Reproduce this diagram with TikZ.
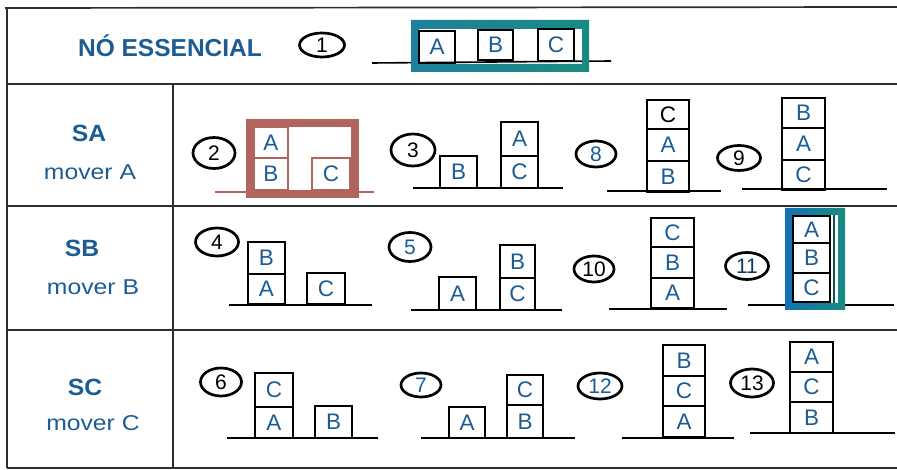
\documentclass[tikz,border=0pt]{standalone}
\usepackage{fontspec}
\setmainfont{Liberation Sans}
\usetikzlibrary{shapes.geometric}
\definecolor{ink}{RGB}{28,92,148}
\definecolor{boxred}{RGB}{176,102,94}
\definecolor{tealA}{RGB}{24,140,128}
\definecolor{tealB}{RGB}{30,128,155}
\definecolor{blueA}{RGB}{22,112,180}
\definecolor{frame}{RGB}{45,45,45}
\tikzset{
  blk/.style={draw=black, line width=1.6pt, inner sep=0pt, text=ink, font=\fontsize{22.5}{22}\selectfont},
  redblk/.style={draw=boxred, line width=1.8pt},
  numc/.style={draw=black, ellipse, line width=2.7pt, inner sep=0pt, font=\fontsize{21}{21}\selectfont},
  ground/.style={line width=1.6pt, black},
  rule/.style={line width=1.7pt, frame},
  lbl/.style={text=ink, anchor=base, inner sep=0pt},
}
% \bk[style]{name}{x1}{y1}{x2}{y2}{letter}
\newcommand{\bk}[7][]{\node[blk,#1,minimum width={#5-#3},minimum height={#6-#4}] (#2) at ({(#3+#5)/2},{(#4+#6)/2}) {#7};}
\begin{document}
\begin{tikzpicture}[x=1pt,y=-1pt]
\useasboundingbox (0,0) rectangle (897,470);
\fill[white] (0,0) rectangle (897,470);

% table
\draw[rule] (5,8) -- (897,7);
\draw[rule] (7,8) -- (7,468);
\draw[rule] (7,84) -- (897,84);
\draw[rule] (7,206) -- (897,206);
\draw[rule] (7,330) -- (897,330);
\draw[rule] (7,468) -- (897,468);
\draw[rule] (173,84) -- (173,468);

% row labels
\node[lbl] (hdr) at (170,57) {\fontsize{24.5}{25}\selectfont\bfseries NÓ ESSENCIAL};
\node[lbl] (sa) at (89,142) {\scalebox{1.05}[1]{\fontsize{23.5}{22}\selectfont\bfseries SA}};
\node[lbl] (ma) at (90,180) {\scalebox{1.15}[1]{\fontsize{21.5}{22}\selectfont mover A}};
\node[lbl] (sb) at (82,257) {\scalebox{1.05}[1]{\fontsize{23.5}{22}\selectfont\bfseries SB}};
\node[lbl] (mb) at (93,295) {\scalebox{1.15}[1]{\fontsize{21.5}{22}\selectfont mover B}};
\node[lbl] (sc) at (85,395) {\scalebox{1.05}[1]{\fontsize{23.5}{22}\selectfont\bfseries SC}};
\node[lbl] (mc) at (93,430) {\scalebox{1.15}[1]{\fontsize{21.5}{22}\selectfont mover C}};

% ---- state 1
\node[numc, minimum width=45, minimum height=24] (c1) at (322,45) {1};
\draw[ground] (372,63) -- (611,61);
\shade[left color=tealB, middle color=blueA, right color=tealA, even odd rule]
  (411,20) rectangle (589,72) (419,29) rectangle (582,64);
\bk[line width=1.4pt]{s1a}{419}{31}{455}{63}{A}
\bk[line width=1.4pt]{s1b}{478}{30}{513}{60}{B}
\bk[line width=1.4pt]{s1c}{538}{29}{574}{61}{C}

% ---- state 2
\node[numc, minimum width=42, minimum height=31] (c2) at (214,153) {2};
\draw[ground, boxred] (215,192) -- (374,192);
\draw[boxred, line width=8pt] (250,123) rectangle (355,194);
\bk[redblk]{s2a}{254}{127}{288}{158}{A}
\bk[redblk]{s2b}{254}{158}{288}{190}{B}
\bk[redblk]{s2c}{312}{158}{350}{190}{C}

% ---- state 3
\node[numc, minimum width=44, minimum height=32] (c3) at (413,150) {3};
\draw[ground] (413,188) -- (563,188);
\bk{s3b}{440}{156}{477}{188}{B}
\bk{s3a}{501}{122}{538}{156}{A}
\bk{s3c}{501}{156}{538}{188}{C}

% ---- state 8
\node[numc, minimum width=40, minimum height=26, text=ink] (c8) at (596,154) {8};
\draw[ground] (607,191) -- (721,191);
\bk[text=black]{s8c}{647}{100}{689}{129}{C}
\bk{s8a}{647}{129}{689}{161}{A}
\bk{s8b}{647}{161}{689}{192}{B}

% ---- state 9
\node[numc, minimum width=43, minimum height=25] (c9) at (739,158) {9};
\draw[ground] (742,189) -- (887,189);
\bk{s9b}{782}{98}{825}{128}{B}
\bk{s9a}{782}{128}{825}{160}{A}
\bk{s9c}{782}{160}{825}{190}{C}

% ---- state 4
\node[numc, minimum width=43, minimum height=28] (c4) at (217,242) {4};
\draw[ground] (229,305) -- (372,305);
\bk{s4b}{248}{242}{285}{274}{B}
\bk{s4a}{248}{274}{285}{304}{A}
\bk{s4c}{307}{273}{345}{304}{C}

% ---- state 5
\node[numc, minimum width=42, minimum height=29, text=ink] (c5) at (410,247) {5};
\draw[ground] (411,310) -- (562,310);
\bk{s5a}{439}{277}{476}{310}{A}
\bk{s5b}{500}{245}{535}{278}{B}
\bk{s5c}{500}{278}{535}{310}{C}

% ---- state 10
\node[numc, minimum width=40, minimum height=26] (c10) at (594,269) {10};
\draw[ground] (609,309) -- (727,309);
\bk{s10c}{651}{218}{694}{247}{C}
\bk{s10b}{651}{247}{694}{278}{B}
\bk{s10a}{651}{278}{694}{308}{A}

% ---- state 11
\node[numc, minimum width=43, minimum height=27, text=ink!60!black] (c11) at (747,266) {11};
\draw[ground] (748,305) -- (894,305);
\shade[left color=blueA, right color=tealA, even odd rule]
  (785,208) rectangle (845,310) (792,215) rectangle (838,303);
\draw[line width=1.4pt, tealA!60!black] (834,215) -- (834,303);
\bk[line width=1.4pt]{s11a}{793}{216}{830}{243}{A}
\bk[line width=1.4pt]{s11b}{793}{243}{830}{273}{B}
\bk[line width=1.4pt]{s11c}{793}{273}{830}{302}{C}

% ---- state 6
\node[numc, minimum width=41, minimum height=28] (c6) at (221,382) {6};
\draw[ground] (227,438) -- (378,438);
\bk{s6c}{255}{373}{293}{407}{C}
\bk{s6a}{255}{407}{293}{438}{A}
\bk{s6b}{315}{406}{352}{438}{B}

% ---- state 7
\node[numc, minimum width=40, minimum height=24, text=ink] (c7) at (421,385) {7};
\draw[ground] (421,438) -- (575,438);
\bk{s7a}{449}{407}{485}{438}{A}
\bk{s7c}{507}{375}{543}{405}{C}
\bk{s7b}{507}{405}{543}{438}{B}

% ---- state 12
\node[numc, minimum width=44, minimum height=26, text=ink] (c12) at (600,386) {12};
\draw[ground] (622,438) -- (734,438);
\bk{s12b}{663}{345}{705}{376}{B}
\bk{s12c}{663}{376}{705}{406}{C}
\bk{s12a}{663}{406}{705}{437}{A}

% ---- state 13
\node[numc, minimum width=43, minimum height=28] (c13) at (752,383) {13};
\draw[ground] (750,433) -- (895,433);
\bk{s13a}{790}{342}{833}{372}{A}
\bk{s13c}{790}{372}{833}{402}{C}
\bk{s13b}{790}{402}{833}{433}{B}
\end{tikzpicture}
\end{document}
